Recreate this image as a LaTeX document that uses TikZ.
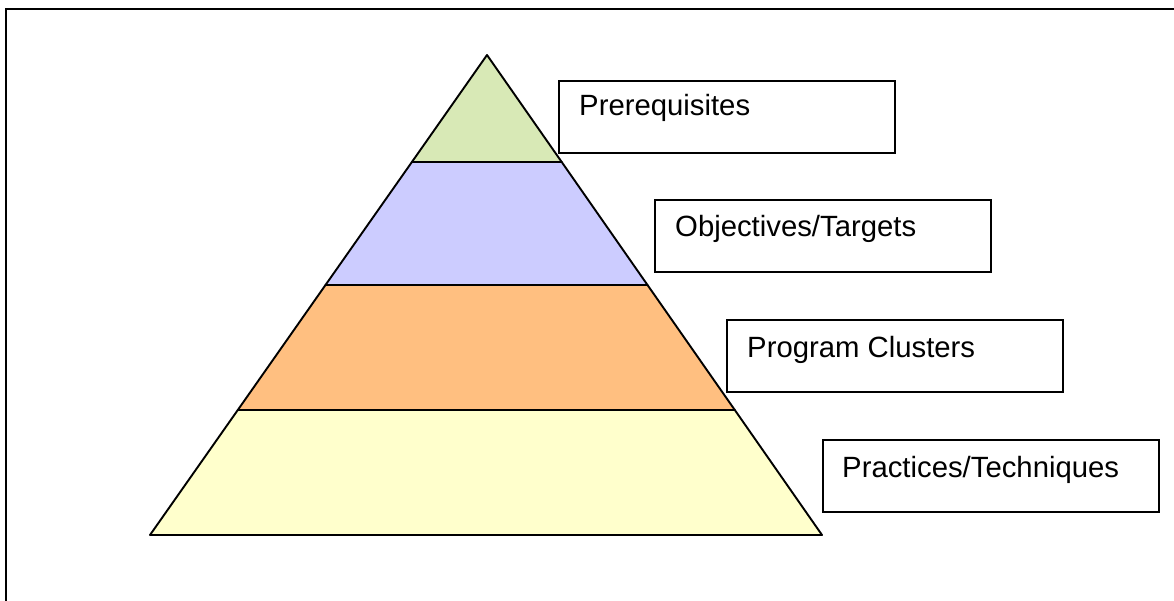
\documentclass[tikz,border=0pt]{standalone}
\usepackage{fontspec}
\setmainfont{Liberation Sans}
\definecolor{tierA}{HTML}{D8E9B6}
\definecolor{tierB}{HTML}{CCCCFF}
\definecolor{tierC}{HTML}{FFBF80}
\definecolor{tierD}{HTML}{FFFFCC}
\begin{document}
\begin{tikzpicture}[x=1pt,y=-1pt,
  layer/.style={draw=black,line width=1.9pt,line join=round},
  labelbox/.style={draw=black,line width=1.9pt,anchor=north west,
    minimum width=336pt,minimum height=72pt,inner sep=0pt},
  labeltext/.style={anchor=base west,inner sep=0pt,
    font=\fontsize{29.3}{35}\selectfont}]
\useasboundingbox (0,0) rectangle (1174,601);
% frame (top and left edges)
\draw[line width=2.4pt] (6,601) -- (6,9) -- (1174,9);
% pyramid corner points
\coordinate (apex) at (487,55);
\coordinate (l1) at (411.9,162); \coordinate (r1) at (561.7,162);
\coordinate (l2) at (325.5,285); \coordinate (r2) at (647.5,285);
\coordinate (l3) at (237.8,410); \coordinate (r3) at (734.8,410);
\coordinate (l4) at (150,535);   \coordinate (r4) at (822,535);
% pyramid tiers
\draw[layer,fill=tierA] (apex) -- (r1) -- (l1) -- cycle;
\draw[layer,fill=tierB] (l1) -- (r1) -- (r2) -- (l2) -- cycle;
\draw[layer,fill=tierC] (l2) -- (r2) -- (r3) -- (l3) -- cycle;
\draw[layer,fill=tierD] (l3) -- (r3) -- (r4) -- (l4) -- cycle;
% label boxes
\node[labelbox] (preBox) at (558,80) {};
\node[labeltext] (preText) at ([shift={(21,36)}]preBox.north west) {Prerequisites};
\node[labelbox] (objBox) at (654,199) {};
\node[labeltext] (objText) at ([shift={(21,38)}]objBox.north west) {Objectives/Targets};
\node[labelbox] (progBox) at (726,319) {};
\node[labeltext] (progText) at ([shift={(21,38)}]progBox.north west) {Program Clusters};
\node[labelbox] (pracBox) at (822,439) {};
\node[labeltext] (pracText) at ([shift={(20,38)}]pracBox.north west) {Practices/Techniques};
\end{tikzpicture}
\end{document}
